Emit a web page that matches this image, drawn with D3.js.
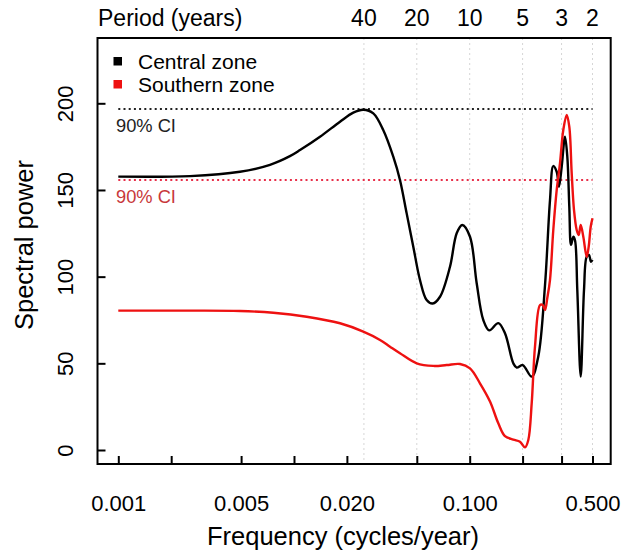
<!DOCTYPE html>
<html>
<head>
<meta charset="utf-8">
<script src="https://cdn.jsdelivr.net/npm/d3@7"></script>
<style>
  html, body { margin: 0; padding: 0; background: #fff; }
  svg { display: block; font-family: "Liberation Sans", Arial, Helvetica, sans-serif; }
</style>
</head>
<body>
<svg id="chart" width="625" height="552"></svg>
<script>
// Spectral power of the two zones against frequency (cycles/year)
const centralFreq = [0.001, 0.00256, 0.00493, 0.0073, 0.00948, 0.01082, 0.01406, 0.01828,
  0.02175, 0.0248, 0.02827, 0.0322, 0.03673, 0.0401, 0.04378, 0.04775, 0.05212, 0.05689, 0.06158,
  0.06776, 0.07725, 0.08433, 0.09075, 0.1004, 0.1096, 0.1195, 0.1293, 0.1455, 0.1588, 0.1771,
  0.1852, 0.2003, 0.2254, 0.2457, 0.2683, 0.2864, 0.2991, 0.3128, 0.3224, 0.3339, 0.3487, 0.3594,
  0.3689, 0.3773, 0.3888, 0.3975, 0.4097, 0.4284, 0.4473, 0.4634, 0.4775, 0.4902, 0.5];
const centralPower = [157.7, 158, 160.5, 164.5, 169.5, 173, 180.7, 189.4,
  194.6, 196.3, 194.2, 184.6, 169.2, 155.8, 136.5, 117.3, 98.1, 86.5, 84.5,
  88.4, 105.7, 125, 129.8, 123, 96.2, 75, 69, 73.2, 67.3, 50,
  47.5, 49, 42.3, 54, 95, 144, 163.8, 160.5, 151.9, 163.4, 180.7, 169.2,
  140.4, 118.3, 123, 121, 92.3, 42.3, 92.3, 111.5, 112.5, 108.6, 109.6];

const southernFreq = [0.001, 0.00256, 0.00493, 0.00762, 0.01181, 0.01828, 0.0248, 0.03087, 0.03519,
  0.0401, 0.04993, 0.06205, 0.07398, 0.08808, 0.1004, 0.1144, 0.1305, 0.1455, 0.1588, 0.1771,
  0.1933, 0.2064, 0.2156, 0.2254, 0.2353, 0.2513, 0.2603, 0.2683, 0.2765, 0.2864, 0.2991,
  0.3128, 0.3265, 0.341, 0.3565, 0.3689, 0.3807, 0.3924, 0.4064, 0.4173, 0.4284, 0.4433,
  0.4634, 0.4757, 0.4884, 0.5];
const southernPower = [80.4, 80.4, 80.2, 79.2, 76.9, 73.1, 68.3, 63.5, 59.6,
  55.8, 50, 48.5, 49, 49.6, 47.1, 38.5, 28, 15.4, 8, 6,
  4.8, 1.5, 5.8, 27, 59.6, 83.6, 83.6, 80.8, 87.7, 98, 126.9,
  150, 165.4, 184.6, 193.3, 186.5, 159.6, 138.4, 126.9, 124, 129.8, 123,
  111.5, 117.3, 128.8, 133.7];

// 90% confidence levels
const ciCentral = 196.7;
const ciSouthern = 155.8;

// axis ticks
const freqTicks = [0.001, 0.002, 0.005, 0.01, 0.02, 0.05, 0.1, 0.2, 1 / 3, 0.5];
const freqLabels = ["0.001", "0.005", "0.020", "0.100", "0.500"];
const periodTicks = [40, 20, 10, 5, 3, 2];
const powerTicks = [0, 50, 100, 150, 200];

const svg = d3.select("#chart");
const box = { left: 97.5, right: 610.7, top: 38, bottom: 464 };

const x = d3.scaleLog().domain([0.001, 0.5]).range([118.3, 592.5]);
const y = d3.scaleLinear().domain([0, 200]).range([450, 103.3]);

// period gridlines
svg.append("g")
  .selectAll("line")
  .data(periodTicks)
  .join("line")
  .attr("x1", d => x(1 / d)).attr("x2", d => x(1 / d))
  .attr("y1", box.top).attr("y2", box.bottom)
  .attr("stroke", "#d6d6d6")
  .attr("stroke-width", 1)
  .attr("stroke-dasharray", "2,3");

// confidence lines
const ci = [
  { v: ciCentral, line: "#222", text: "#222" },
  { v: ciSouthern, line: "#e8304a", text: "#c8383a" }
];
svg.append("g")
  .selectAll("line")
  .data(ci)
  .join("line")
  .attr("x1", x(0.001)).attr("x2", x(0.5))
  .attr("y1", d => y(d.v)).attr("y2", d => y(d.v))
  .attr("stroke", d => d.line)
  .attr("stroke-width", 2)
  .attr("stroke-dasharray", "2,3.2");
svg.append("g")
  .selectAll("text")
  .data(ci)
  .join("text")
  .attr("x", 116)
  .attr("y", d => y(d.v) + 23)
  .attr("fill", d => d.text)
  .attr("font-size", 18.3)
  .text("90% CI");

// spectra
const line = d3.line()
  .x(d => x(d[0]))
  .y(d => y(d[1]))
  .curve(d3.curveCatmullRom.alpha(0.5));

svg.append("path")
  .datum(centralFreq.map((f, i) => [f, centralPower[i]]))
  .attr("d", line)
  .attr("fill", "none")
  .attr("stroke", "#000")
  .attr("stroke-width", 2.4)
  .attr("stroke-linejoin", "round");

svg.append("path")
  .datum(southernFreq.map((f, i) => [f, southernPower[i]]))
  .attr("d", line)
  .attr("fill", "none")
  .attr("stroke", "#ee1111")
  .attr("stroke-width", 2.4)
  .attr("stroke-linejoin", "round");

// frame
svg.append("rect")
  .attr("x", box.left).attr("y", box.top)
  .attr("width", box.right - box.left).attr("height", box.bottom - box.top)
  .attr("fill", "none")
  .attr("stroke", "#000")
  .attr("stroke-width", 2);

// bottom axis: frequency
const xAxis = svg.append("g")
  .attr("transform", `translate(0,${box.bottom})`)
  .call(d3.axisBottom(x)
    .tickValues(freqTicks)
    .tickSizeInner(-8)
    .tickSizeOuter(0)
    .tickPadding(31)
    .tickFormat(d => {
      const s = d3.format(".3f")(d);
      return freqLabels.includes(s) ? s : "";
    }));
xAxis.select(".domain").remove();
xAxis.selectAll("line").attr("stroke", "#000").attr("stroke-width", 2);
xAxis.selectAll("text")
  .attr("font-size", 22)
  .attr("font-family", "Liberation Sans, Arial, sans-serif")
  .attr("fill", "#000");

// left axis: spectral power
const yAxis = svg.append("g")
  .attr("transform", `translate(${box.left},0)`)
  .call(d3.axisLeft(y)
    .tickValues(powerTicks)
    .tickSizeInner(-8)
    .tickSizeOuter(0));
yAxis.select(".domain").remove();
yAxis.selectAll("line").attr("stroke", "#000").attr("stroke-width", 2);
yAxis.selectAll("text")
  .attr("x", null)
  .attr("dy", null)
  .attr("text-anchor", "middle")
  .attr("transform", "translate(-24.5,0) rotate(-90)")
  .attr("font-size", 22)
  .attr("font-family", "Liberation Sans, Arial, sans-serif")
  .attr("fill", "#000");

// top axis: period labels
svg.append("g")
  .selectAll("text")
  .data(periodTicks)
  .join("text")
  .attr("x", d => x(1 / d))
  .attr("y", 26)
  .attr("text-anchor", "middle")
  .attr("font-size", 23)
  .text(d => d);
svg.append("text")
  .attr("x", 98).attr("y", 26)
  .attr("font-size", 23)
  .text("Period (years)");

// axis titles
svg.append("text")
  .attr("transform", "translate(33,245) rotate(-90)")
  .attr("text-anchor", "middle")
  .attr("font-size", 25.5)
  .text("Spectral power");
svg.append("text")
  .attr("x", 343).attr("y", 545)
  .attr("text-anchor", "middle")
  .attr("font-size", 25.5)
  .text("Frequency (cycles/year)");

// legend
const legend = [
  { name: "Central zone", color: "#000" },
  { name: "Southern zone", color: "#ee1111" }
];
const lg = svg.append("g");
lg.selectAll("rect")
  .data(legend)
  .join("rect")
  .attr("x", 113.5)
  .attr("y", (d, i) => 57 + i * 23)
  .attr("width", 8.5).attr("height", 8.5)
  .attr("fill", d => d.color);
lg.selectAll("text")
  .data(legend)
  .join("text")
  .attr("x", 138)
  .attr("y", (d, i) => 69 + i * 23)
  .attr("font-size", 21)
  .text(d => d.name);
</script>
</body>
</html>
